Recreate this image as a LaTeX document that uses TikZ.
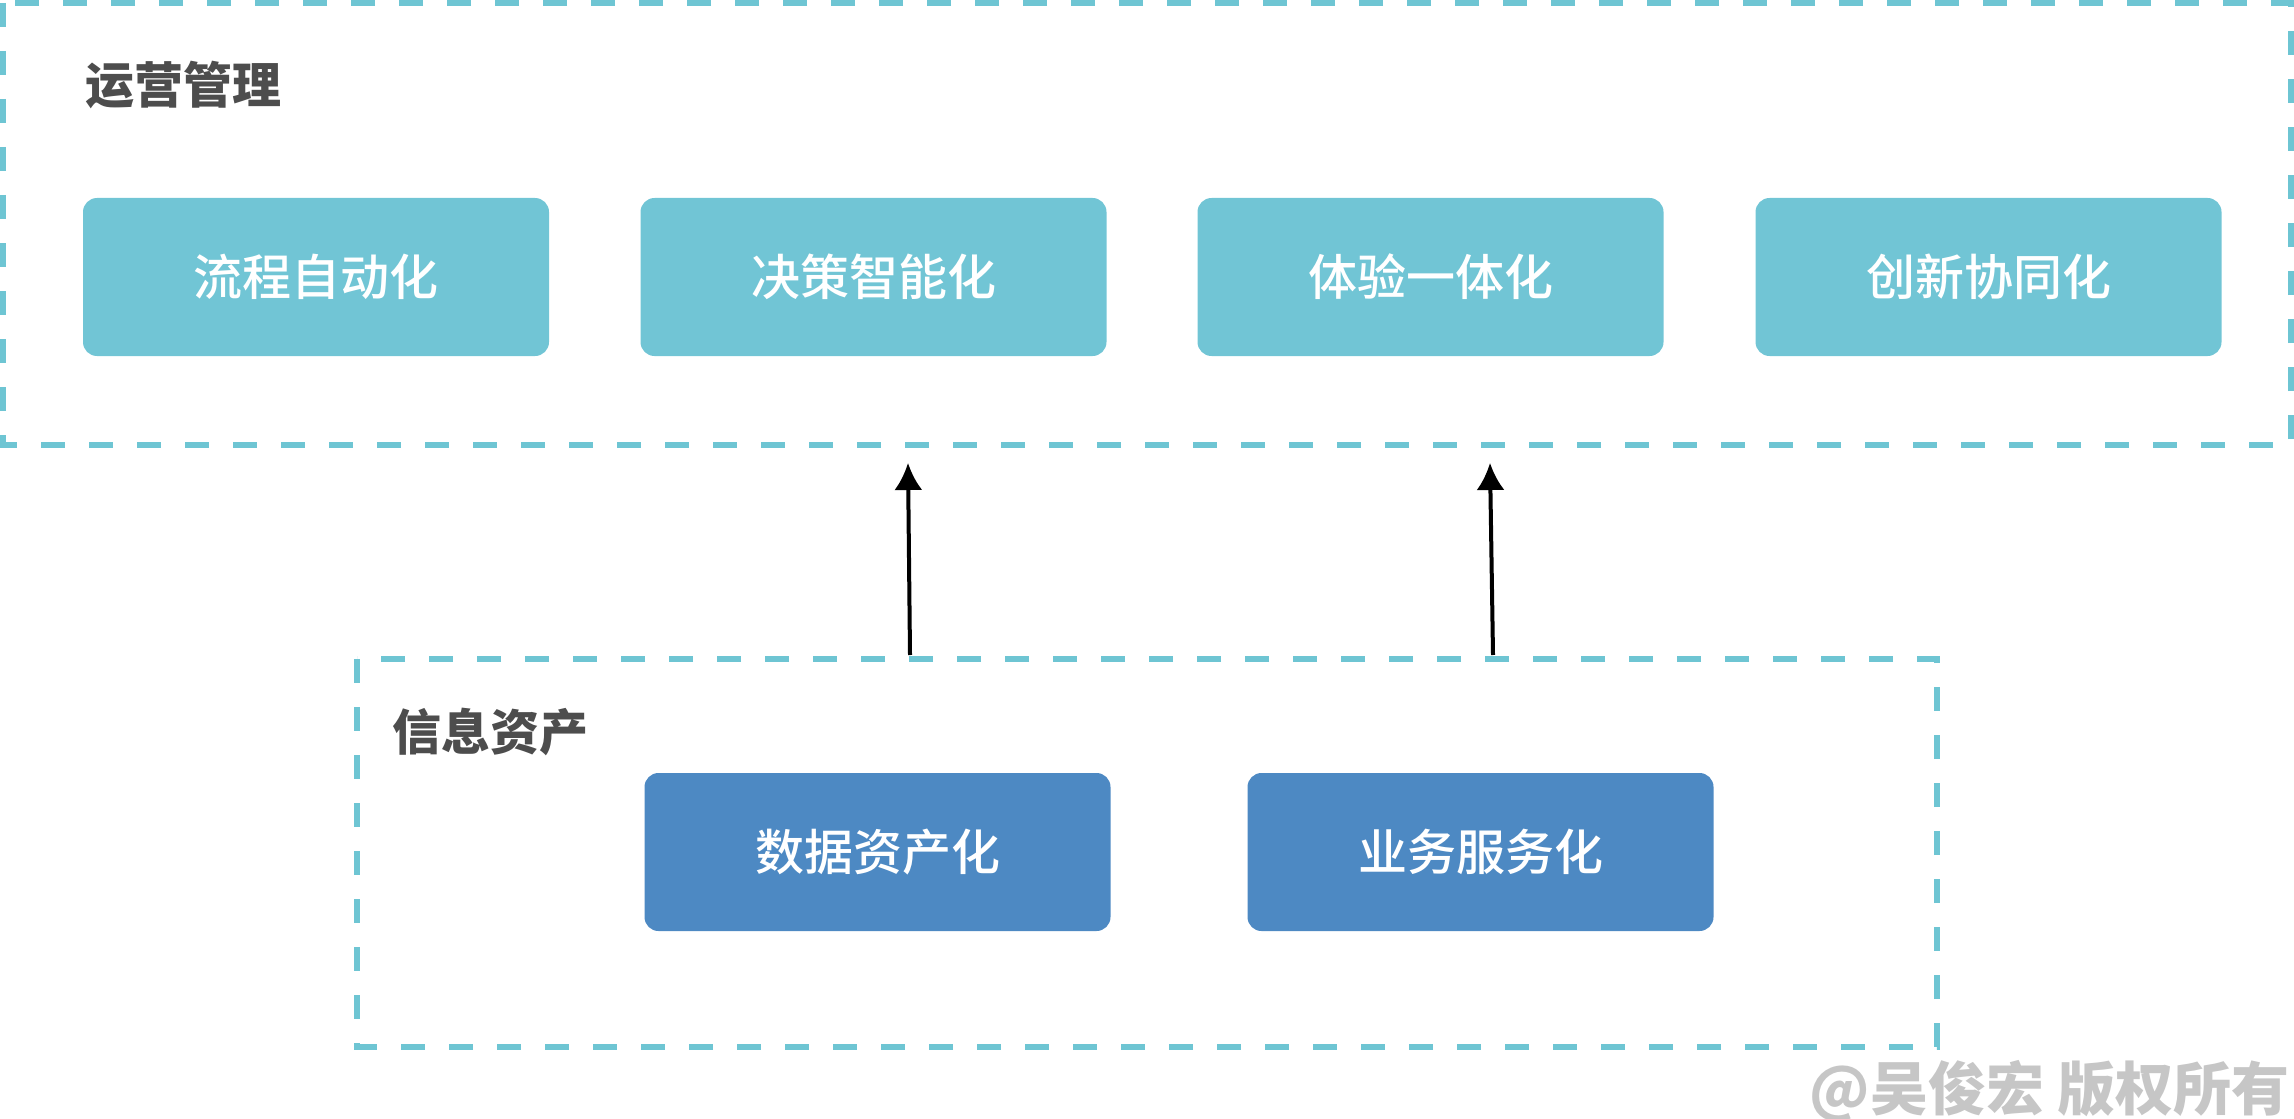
\documentclass[tikz,border=0pt]{standalone}
\usepackage{fontspec}
\newfontfamily\cjk{Noto Sans CJK SC}
\newfontfamily\cjkmed{Noto Sans CJK SC Medium}
\usepackage{tikz}
\usetikzlibrary{arrows.meta}
\definecolor{frameblue}{HTML}{6EC5D3}
\definecolor{opsfill}{HTML}{71C5D5}
\definecolor{infofill}{HTML}{4D89C3}
\definecolor{titlegray}{HTML}{4D4D4D}
\definecolor{markgray}{HTML}{C6C6C6}

\begin{document}
\begin{tikzpicture}[x=0.5pt, y=-0.5pt,
	dashframe/.style={draw=frameblue, line width=3pt, dash pattern=on 12pt off 12pt},
	cardnode/.style={rounded corners=7pt, minimum width=233pt, minimum height=79pt, inner sep=0pt,
		text=white, font=\cjkmed\fontsize{24.5}{24.5}\selectfont},
	opsnode/.style={cardnode, fill=opsfill},
	infonode/.style={cardnode, fill=infofill},
	frametitle/.style={anchor=west, inner sep=0pt, text=titlegray, font=\cjk\bfseries\fontsize{24.5}{24.5}\selectfont},
	uparrow/.style={line width=2pt, -{Latex[length=13.5pt, width=14pt]}}]
	\useasboundingbox (0,0) rectangle (2294,1118);
	\draw[dashframe] (3,3) rectangle (2291,445);
	\node[frametitle] (opstitle) at (85,85) {运营管理};
	\node[opsnode] (process) at (316,277) {流程自动化};
	\node[opsnode] (decision) at (873.5,277) {决策智能化};
	\node[opsnode] (experience) at (1430.5,277) {体验一体化};
	\node[opsnode] (innovation) at (1988.5,277) {创新协同化};
	\draw[dashframe] (357,659) rectangle (1937,1047);
	\node[frametitle] (infotitle) at (392,732) {信息资产};
	\node[infonode] (dataasset) at (877.5,852) {数据资产化};
	\node[infonode] (bizservice) at (1480.5,852) {业务服务化};
	\coordinate (arrowA) at (910,655);
	\coordinate (tipA) at (908,463);
	\coordinate (arrowB) at (1493,655);
	\coordinate (tipB) at (1490,463);
	\draw[uparrow] (arrowA) -- (tipA);
	\draw[uparrow] (arrowB) -- (tipB);
	\node[anchor=east, inner sep=0pt, text=markgray, font=\cjk\bfseries\fontsize{29}{29}\selectfont] (watermark) at (2290,1091) {@吴俊宏 版权所有};
\end{tikzpicture}
\end{document}
